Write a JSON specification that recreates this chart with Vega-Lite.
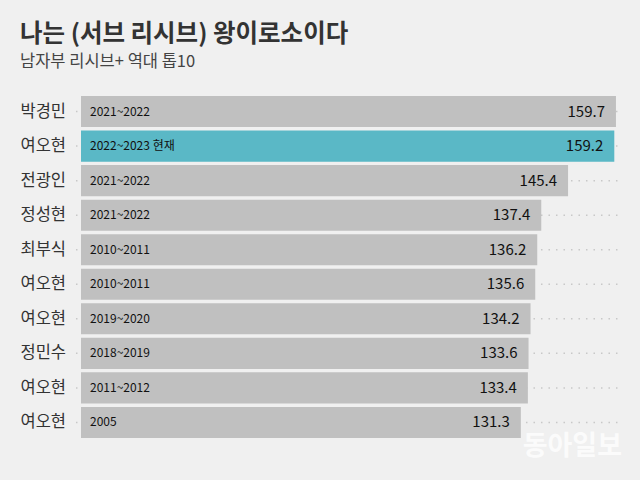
{
  "$schema": "https://vega.github.io/schema/vega-lite/v6.json",
  "width": 541,
  "height": 342,
  "autosize": "none",
  "padding": {"left": 81, "top": 96, "right": 18, "bottom": 42},
  "background": "#f0f0f0",
  "config": {"view": {"stroke": null}, "font": "Noto Sans CJK KR"},
  "title": {
    "text": "나는 (서브 리시브) 왕이로소이다",
    "subtitle": "남자부 리시브+ 역대 톱10",
    "anchor": "start",
    "frame": "group",
    "dx": -61,
    "offset": 25,
    "font": "Noto Sans CJK KR",
    "fontSize": 24.5,
    "fontWeight": "bold",
    "color": "#333333",
    "subtitleFont": "Noto Sans CJK KR",
    "subtitleFontSize": 16.5,
    "subtitleColor": "#444444",
    "subtitlePadding": 6
  },
  "data": {
    "values": [
      {"rank": 1, "name": "박경민", "season": "2021~2022", "value": 159.7, "hl": "n"},
      {"rank": 2, "name": "여오현", "season": "2022~2023 현재", "value": 159.2, "hl": "y"},
      {"rank": 3, "name": "전광인", "season": "2021~2022", "value": 145.4, "hl": "n"},
      {"rank": 4, "name": "정성현", "season": "2021~2022", "value": 137.4, "hl": "n"},
      {"rank": 5, "name": "최부식", "season": "2010~2011", "value": 136.2, "hl": "n"},
      {"rank": 6, "name": "여오현", "season": "2010~2011", "value": 135.6, "hl": "n"},
      {"rank": 7, "name": "여오현", "season": "2019~2020", "value": 134.2, "hl": "n"},
      {"rank": 8, "name": "정민수", "season": "2018~2019", "value": 133.6, "hl": "n"},
      {"rank": 9, "name": "여오현", "season": "2011~2012", "value": 133.4, "hl": "n"},
      {"rank": 10, "name": "여오현", "season": "2005", "value": 131.3, "hl": "n"}
    ]
  },
  "encoding": {
    "y": {
      "field": "rank",
      "type": "ordinal",
      "axis": null,
      "scale": {"paddingInner": 0.1, "paddingOuter": 0}
    }
  },
  "layer": [
    {
      "mark": {"type": "rule", "color": "#c8c8c8", "strokeWidth": 1.5, "strokeDash": [1.5, 6]},
      "encoding": {
        "x": {"datum": -1.5, "type": "quantitative", "scale": {"domain": [0, 161.5], "nice": false}, "axis": null},
        "x2": {"datum": 161.5}
      }
    },
    {
      "mark": {"type": "bar"},
      "encoding": {
        "x": {"field": "value", "type": "quantitative"},
        "color": {
          "field": "hl",
          "type": "nominal",
          "scale": {"domain": ["n", "y"], "range": ["#c0c0c0", "#5ab8c6"]},
          "legend": null
        }
      }
    },
    {
      "mark": {"type": "text", "align": "right", "baseline": "middle", "dx": -15, "fontSize": 16.5, "color": "#333333"},
      "encoding": {
        "x": {"datum": 0, "type": "quantitative"},
        "text": {"field": "name"}
      }
    },
    {
      "mark": {"type": "text", "align": "left", "baseline": "middle", "dx": 9, "fontSize": 12, "color": "#111111"},
      "encoding": {
        "x": {"datum": 0, "type": "quantitative"},
        "text": {"field": "season"}
      }
    },
    {
      "mark": {"type": "text", "align": "right", "baseline": "middle", "dx": -11, "fontSize": 15, "color": "#111111"},
      "encoding": {
        "x": {"field": "value", "type": "quantitative"},
        "text": {"field": "value", "format": ".1f"}
      }
    },
    {
      "transform": [{"filter": "datum.rank == 10"}],
      "mark": {"type": "text", "align": "right", "baseline": "middle", "dy": 25, "fontSize": 27, "fontWeight": "bold", "color": "#ffffff", "opacity": 0.75, "text": "동아일보"},
      "encoding": {
        "x": {"datum": 161.5, "type": "quantitative"}
      }
    }
  ]
}
